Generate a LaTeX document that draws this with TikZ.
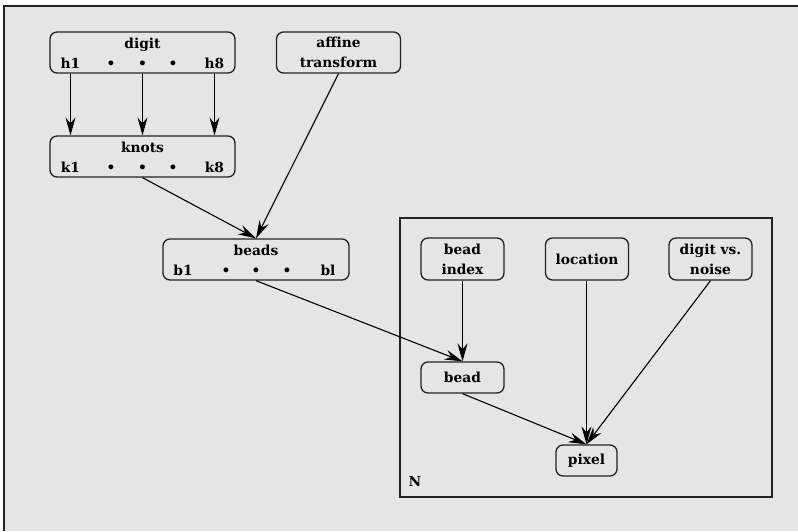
\documentclass[tikz,border=0pt]{standalone}
\usepackage{fontspec}
\setmainfont{DejaVu Serif}
\usetikzlibrary{arrows.meta}
\definecolor{bg}{HTML}{E5E5E5}
\definecolor{ln}{HTML}{222222}
\begin{document}
\begin{tikzpicture}[x=1pt,y=-1pt,
  lbl/.style={font=\fontsize{13.8}{20}\selectfont\bfseries, inner sep=0pt, text=black},
  box/.style={draw=ln, line width=1.3pt, rounded corners=7pt, fill=bg, inner sep=0pt,
              font=\fontsize{13.8}{20}\selectfont\bfseries, align=center},
  arr/.style={-{Stealth[length=18pt,width=10pt,inset=6pt]}, line width=1.1pt, draw=black}]
\useasboundingbox (0,0) rectangle (798,531);
\fill[white] (0,0) rectangle (798,531);
\fill[bg] (4,6) rectangle (798,531);
\draw[ln, line width=1.6pt] (4,531) -- (4,6) -- (798,6);

% plate
\node[draw=ln, line width=1.3pt, minimum width=372pt, minimum height=279pt, inner sep=0pt] (plate) at (586,357.5) {};
\node[lbl, anchor=base] (Nlbl) at (415,486) {N};

% digit
\node[box, minimum width=185pt, minimum height=41pt] (digit) at (142.5,52.5) {};
\node[lbl, anchor=base] (digitT) at (142.5,48) {digit};
\node[lbl, anchor=base] (h1) at (70.5,68) {h1};
\node[lbl, anchor=base] (hd1) at (111,68) {•};
\node[lbl, anchor=base] (hd2) at (142.5,68) {•};
\node[lbl, anchor=base] (hd3) at (173,68) {•};
\node[lbl, anchor=base] (h8) at (214.5,68) {h8};

% knots
\node[box, minimum width=185pt, minimum height=41pt] (knots) at (142.5,156.5) {};
\node[lbl, anchor=base] (knotsT) at (142.5,152) {knots};
\node[lbl, anchor=base] (k1) at (70.5,172) {k1};
\node[lbl, anchor=base] (kd1) at (111,172) {•};
\node[lbl, anchor=base] (kd2) at (142.5,172) {•};
\node[lbl, anchor=base] (kd3) at (173,172) {•};
\node[lbl, anchor=base] (k8) at (214.5,172) {k8};

% affine
\node[box, minimum width=124pt, minimum height=41pt] (affine) at (338.5,52.5) {affine\\transform};

% beads
\node[box, minimum width=186pt, minimum height=41pt] (beads) at (256,259.5) {};
\node[lbl, anchor=base] (beadsT) at (256,255) {beads};
\node[lbl, anchor=base] (b1) at (183,275) {b1};
\node[lbl, anchor=base] (bd1) at (226,275) {•};
\node[lbl, anchor=base] (bd2) at (256,275) {•};
\node[lbl, anchor=base] (bd3) at (287,275) {•};
\node[lbl, anchor=base] (bl) at (328,275) {bl};

% inside plate
\node[box, minimum width=83pt, minimum height=42pt] (bidx) at (462.5,259) {bead\\index};
\node[box, minimum width=83pt, minimum height=42pt] (loc) at (587,259) {location};
\node[box, minimum width=83pt, minimum height=42pt] (dvn) at (710.5,259) {digit vs.\\noise};
\node[box, minimum width=83pt, minimum height=31pt] (bead) at (462.5,377.5) {bead};
\node[box, minimum width=61pt, minimum height=31pt] (pixel) at (586.5,460.5) {pixel};

% arrows
\draw[arr] (digit.south -| h1) -- (knots.north -| h1);
\draw[arr] (digit.south -| hd2) -- (knots.north -| hd2);
\draw[arr] (digit.south -| h8) -- (knots.north -| h8);
\draw[arr] (knots.south) -- (beads.north);
\draw[arr] (affine.south) -- (beads.north);
\draw[arr] (beads.south) -- (bead.north);
\draw[arr] (bidx.south) -- (bead.north);
\draw[arr] (bead.south) -- (pixel.north);
\draw[arr] (loc.south -| pixel.north) -- (pixel.north);
\draw[arr] (dvn.south) -- (pixel.north);
\end{tikzpicture}
\end{document}
